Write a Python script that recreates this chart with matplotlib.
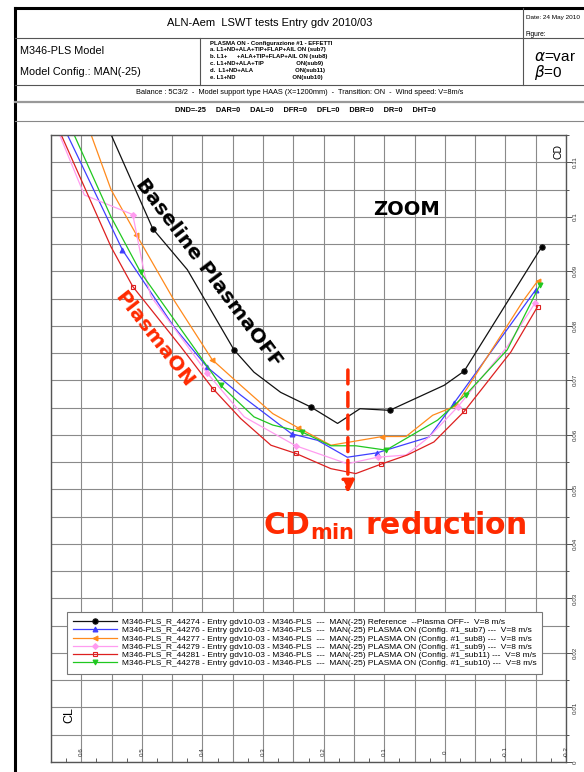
import matplotlib.pyplot as plt
from matplotlib.lines import Line2D
from matplotlib.ticker import MultipleLocator, FuncFormatter

plt.rcParams['font.family'] = ['Liberation Sans', 'DejaVu Sans']

# polar data: CL (horizontal, reversed) / CD (vertical)
cl_ref = [0.62, 0.551, 0.482, 0.425, 0.348, 0.315, 0.271, 0.221, 0.177, 0.140, 0.091, 0.001, -0.032, -0.160]
cd_ref = [0.132, 0.1151, 0.0978, 0.0903, 0.0756, 0.0715, 0.0678, 0.0651, 0.0621, 0.0648, 0.0645, 0.0691, 0.0717, 0.0945]
mk_ref = [2, 4, 7, 10, 12, 13]

cl_sub7 = [0.64, 0.532, 0.447, 0.392, 0.337, 0.253, 0.210, 0.161, 0.112, 0.026, -0.015, -0.150]
cd_sub7 = [0.119, 0.0939, 0.0798, 0.0724, 0.0673, 0.0602, 0.0590, 0.0559, 0.0567, 0.0596, 0.0658, 0.0866]
mk_sub7 = [1, 3, 5, 8, 10, 11]

cl_sub8 = [0.60, 0.551, 0.509, 0.447, 0.384, 0.337, 0.284, 0.242, 0.188, 0.103, 0.064, 0.020, -0.018, -0.130, -0.153]
cd_sub8 = [0.120, 0.1050, 0.0967, 0.0847, 0.0738, 0.0691, 0.0639, 0.0613, 0.0581, 0.0597, 0.0597, 0.0636, 0.0653, 0.0847, 0.0882]
mk_sub8 = [2, 4, 7, 9, 12, 14]

cl_sub9 = [0.645, 0.595, 0.515, 0.496, 0.485, 0.392, 0.331, 0.246, 0.161, 0.111, 0.064, 0.026, -0.021, -0.103, -0.149]
cd_sub9 = [0.1175, 0.1040, 0.1004, 0.0897, 0.0854, 0.0713, 0.0633, 0.0580, 0.0547, 0.0559, 0.0563, 0.0596, 0.0651, 0.0762, 0.0842]
mk_sub9 = [2, 5, 7, 9, 12, 14]

cl_sub11 = [0.645, 0.551, 0.515, 0.436, 0.383, 0.337, 0.287, 0.246, 0.188, 0.147, 0.106, 0.062, 0.018, -0.032, -0.109, -0.153]
cd_sub11 = [0.118, 0.0945, 0.0872, 0.0762, 0.0685, 0.0630, 0.0581, 0.0566, 0.0538, 0.0529, 0.0546, 0.0563, 0.0587, 0.0643, 0.0752, 0.0835]
mk_sub11 = [2, 4, 7, 10, 13, 15]

cl_sub10 = [0.64, 0.551, 0.502, 0.370, 0.315, 0.284, 0.235, 0.188, 0.147, 0.097, 0.012, -0.035, -0.103, -0.157]
cd_sub10 = [0.122, 0.1000, 0.0898, 0.0691, 0.0633, 0.0618, 0.0605, 0.0580, 0.0580, 0.0572, 0.0627, 0.0674, 0.0756, 0.0875]
mk_sub10 = [2, 3, 6, 9, 11, 13]

labels = [
    "M346-PLS_R_44274 - Entry gdv10-03 - M346-PLS  ---  MAN(-25) Reference  --Plasma OFF--  V=8 m/s",
    "M346-PLS_R_44276 - Entry gdv10-03 - M346-PLS  ---  MAN(-25) PLASMA ON (Config. #1_sub7) ---  V=8 m/s",
    "M346-PLS_R_44277 - Entry gdv10-03 - M346-PLS  ---  MAN(-25) PLASMA ON (Config. #1_sub8) ---  V=8 m/s",
    "M346-PLS_R_44279 - Entry gdv10-03 - M346-PLS  ---  MAN(-25) PLASMA ON (Config. #1_sub9) ---  V=8 m/s",
    "M346-PLS_R_44281 - Entry gdv10-03 - M346-PLS  ---  MAN(-25) PLASMA ON (Config. #1_sub11) ---  V=8 m/s",
    "M346-PLS_R_44278 - Entry gdv10-03 - M346-PLS  ---  MAN(-25) PLASMA ON (Config. #1_sub10) ---  V=8 m/s",
]

cl_ticks = [0.6, 0.5, 0.4, 0.3, 0.2, 0.1, 0, -0.1, -0.2]
cl_ticklabels = ["0.6", "0.5", "0.4", "0.3", "0.2", "0.1", "0", "-0.1", "-0.2"]

W, H = 584, 772
def fx(x):
    return x / W
def fy(y):
    return 1 - y / H

fig = plt.figure(figsize=(5.84, 7.72), dpi=100)

# ---- header table ----
def hline(y, x0, x1, c='#555555', lw=0.8):
    fig.add_artist(Line2D([fx(x0), fx(x1)], [fy(y), fy(y)], color=c, lw=lw))
def vline(x, y0, y1, c='#555555', lw=0.8):
    fig.add_artist(Line2D([fx(x), fx(x)], [fy(y0), fy(y1)], color=c, lw=lw))

hline(8, 15, 584, 'black', 2.2)
vline(15, 8, 772, 'black', 2.2)
hline(38, 15, 584)
hline(85, 15, 584)
hline(102, 15, 584, '#999999', 1.6)
hline(121, 15, 584, '#888888', 0.8)
vline(523, 8, 85)
vline(200, 38, 85)

fig.text(fx(270), fy(23), 'ALN-Aem  LSWT tests Entry gdv 2010/03', ha='center', va='center', size=8)
fig.text(fx(526), fy(17), 'Date: 24 May 2010', ha='left', va='center', size=4.6)
fig.text(fx(526), fy(34), 'Figure:', ha='left', va='center', size=4.8)
fig.text(fx(20), fy(51), 'M346-PLS Model', ha='left', va='center', size=7.8)
fig.text(fx(20), fy(72), 'Model Config.: MAN(-25)', ha='left', va='center', size=7.8)

cfg = ['PLASMA ON - Configurazione #1 - EFFETTI',
       'a. L1+ND+ALA+TIP+FLAP+AIL ON (sub7)',
       'b. L1+      +ALA+TIP+FLAP+AIL ON (sub8)',
       'c. L1+ND+ALA+TIP                    ON(sub9)',
       'd.  L1+ND+ALA                          ON(sub11)',
       'e. L1+ND                                   ON(sub10)']
for i, s in enumerate(cfg):
    fig.text(fx(210), fy(43 + i * 6.9), s, ha='left', va='center', size=4.3, weight='bold')

fig.text(fx(534), fy(57), r'$\alpha$=var', ha='left', va='center', size=11)
fig.text(fx(534), fy(72), r'$\beta$=0', ha='left', va='center', size=11)

fig.text(fx(300), fy(92), 'Balance : 5C3/2  -  Model support type HAAS (X=1200mm)  -  Transition: ON  -  Wind speed: V=8m/s',
         ha='center', va='center', size=5.3)
fig.text(fx(305), fy(111), 'DND=-25     DAR=0     DAL=0     DFR=0     DFL=0     DBR=0     DR=0     DHT=0',
         ha='center', va='center', size=5.3, weight='bold')

# ---- polar plot ----
ax = fig.add_axes([fx(51), fy(762), fx(566) - fx(51), fy(135) - fy(762)])
ax.set_xlim(0.65, -0.2)
ax.set_ylim(0, 0.115)

ax.xaxis.set_major_locator(MultipleLocator(0.05))
ax.xaxis.set_minor_locator(MultipleLocator(0.025))
ax.yaxis.set_major_locator(MultipleLocator(0.01))
ax.yaxis.set_minor_locator(MultipleLocator(0.005))
ax.grid(True, which='major', axis='x', color='#8a8a8a', lw=0.8)
ax.grid(True, which='both', axis='y', color='#8a8a8a', lw=0.8)
ax.set_axisbelow(True)
ax.tick_params(axis='x', which='major', length=0, labelbottom=False)
ax.tick_params(axis='x', which='minor', direction='in', length=3, color='#444444')
ax.yaxis.tick_right()
ax.tick_params(axis='y', which='major', direction='out', length=4, width=0.6, labelsize=4.5,
               labelrotation=90, pad=1.0, colors='#333333')
ax.tick_params(axis='y', which='minor', direction='out', length=2.5, width=0.6, color='#333333')
ax.yaxis.set_major_formatter(FuncFormatter(lambda v, p: f'{round(v, 3):g}'))
for lab in ax.get_yticklabels():
    lab.set_va('center')
for sp in ax.spines.values():
    sp.set_color('#555555')
    sp.set_linewidth(1.0)

for v, s in zip(cl_ticks, cl_ticklabels):
    ax.text(v, 0.016, s, rotation=90, ha='center', va='center', size=4.5, color='#333333',
            transform=ax.get_xaxis_transform())

ax.text(0.995, 0.985, 'CD', rotation=90, ha='right', va='top', size=7.5, transform=ax.transAxes)
ax.text(0.035, 0.075, 'CL', rotation=90, ha='center', va='center', size=9, transform=ax.transAxes)

series = [
    (cl_ref, cd_ref, mk_ref, '#111111', 'o', 'black', 3.8),
    (cl_sub7, cd_sub7, mk_sub7, '#3f3fff', '^', '#3f3fff', 3.5),
    (cl_sub8, cd_sub8, mk_sub8, '#ff8a1c', '<', '#ff8a1c', 3.5),
    (cl_sub9, cd_sub9, mk_sub9, '#ff9cf0', 'D', '#ff9cf0', 3.0),
    (cl_sub11, cd_sub11, mk_sub11, '#dd2020', 's', 'none', 3.5),
    (cl_sub10, cd_sub10, mk_sub10, '#20c820', 'v', '#20c820', 3.5),
]
handles = []
for (xs, ys, mk, c, m, mfc, ms), lab in zip(series, labels):
    h, = ax.plot(xs, ys, color=c, lw=0.9, marker=m, markevery=mk, ms=ms,
                 mfc=mfc, mec=c, mew=0.8, label=lab, clip_on=True)
    handles.append(h)

red = '#ff2a00'
ax.text(0.390, 0.0897, 'Baseline PlasmaOFF', rotation=-53, ha='center', va='center',
        size=14.5, weight='bold', family='DejaVu Sans', rotation_mode='anchor')
ax.text(0.480, 0.0775, 'PlasmaON', rotation=-52, ha='center', va='center',
        size=14.5, weight='bold', family='DejaVu Sans', color=red, rotation_mode='anchor')
ax.text(0.063, 0.1013, 'ZOOM', ha='center', va='center', size=14, weight='bold', family='DejaVu Sans')
ax.text(0.083, 0.0433, r'CD$_{\mathbf{min}}$ reduction', ha='center', va='center', size=21.5,
        weight='bold', family='DejaVu Sans', color=red)
ax.annotate('', xy=(0.160, 0.0493), xytext=(0.160, 0.0719),
            arrowprops=dict(arrowstyle='-|>', color=red, lw=2.5, linestyle=(0, (4, 2.5)),
                            mutation_scale=18, shrinkA=0, shrinkB=0))

leg = ax.legend(handles=handles, loc='upper left', bbox_to_anchor=(fx(67), fy(612)),
                bbox_transform=fig.transFigure, fontsize=6.0, frameon=True, fancybox=False,
                edgecolor='#777777', framealpha=1, handlelength=5.2, labelspacing=0.05,
                borderpad=0.75, handletextpad=0.6, borderaxespad=0)
leg.get_frame().set_linewidth(0.8)

fig.savefig('out.png', dpi=100)
